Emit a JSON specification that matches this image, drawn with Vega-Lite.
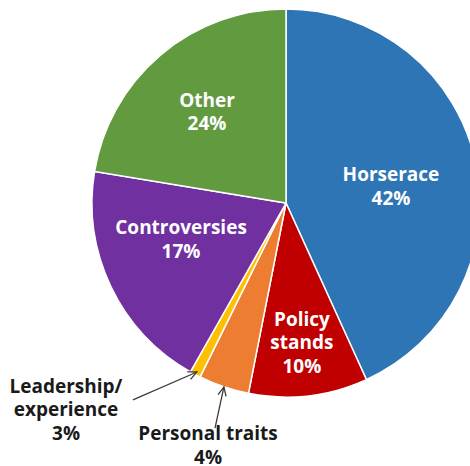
{
  "$schema": "https://vega.github.io/schema/vega-lite/v6.json",
  "autosize": "none",
  "width": 368,
  "height": 388,
  "padding": {"left": 102, "top": 9, "right": 0, "bottom": 69},
  "background": "white",
  "config": {"view": {"stroke": null}, "font": "Open Sans"},
  "datasets": {
    "slices": [
      {"category": "Horserace", "share": 43.2, "rank": 1},
      {"category": "Policy stands", "share": 9.9, "rank": 2},
      {"category": "Personal traits", "share": 4.2, "rank": 3},
      {"category": "Leadership/experience", "share": 0.9, "rank": 4},
      {"category": "Controversies", "share": 19.4, "rank": 5},
      {"category": "Other", "share": 22.4, "rank": 6}
    ],
    "labels": [
      {"text": "Horserace\n42%", "lx": 54.1, "ly": 14.4, "place": "inside"},
      {"text": "Policy\nstands\n10%", "lx": 8.2, "ly": -60.3, "place": "inside"},
      {"text": "Controversies\n17%", "lx": -54.1, "ly": -12.9, "place": "inside"},
      {"text": "Other\n24%", "lx": -40.7, "ly": 52.6, "place": "inside"},
      {"text": "Leadership/\nexperience\n3%", "lx": -113.4, "ly": -94.8, "place": "outside"},
      {"text": "Personal traits\n4%", "lx": -40.2, "ly": -119.1, "place": "outside"}
    ],
    "arrows": [
      {"seg": "a1", "k": 1, "ax": -78.9, "ay": -101.5},
      {"seg": "a1", "k": 2, "ax": -45.9, "ay": -87.1},
      {"seg": "h1", "k": 1, "ax": -49.2, "ay": -90.9},
      {"seg": "h1", "k": 2, "ax": -45.9, "ay": -87.1},
      {"seg": "h1", "k": 3, "ax": -50.9, "ay": -87.0},
      {"seg": "a2", "k": 1, "ax": -36.6, "ay": -116.0},
      {"seg": "a2", "k": 2, "ax": -32.0, "ay": -94.8},
      {"seg": "h2", "k": 1, "ax": -30.9, "ay": -99.7},
      {"seg": "h2", "k": 2, "ax": -32.0, "ay": -94.8},
      {"seg": "h2", "k": 3, "ax": -35.0, "ay": -98.8}
    ]
  },
  "layer": [
    {
      "data": {"name": "slices"},
      "mark": {"type": "arc", "outerRadius": 194, "stroke": "white", "strokeWidth": 1.5},
      "encoding": {
        "theta": {"field": "share", "type": "quantitative", "stack": true},
        "order": {"field": "rank", "type": "quantitative"},
        "color": {
          "field": "category",
          "type": "nominal",
          "legend": null,
          "scale": {
            "domain": ["Horserace", "Policy stands", "Personal traits", "Leadership/experience", "Controversies", "Other"],
            "range": ["#2E75B6", "#C00000", "#ED7D31", "#FFC000", "#7030A0", "#629A40"]
          }
        }
      }
    },
    {
      "data": {"name": "arrows"},
      "mark": {"type": "line", "color": "#3a3a3a", "strokeWidth": 1.3},
      "encoding": {
        "x": {"field": "ax", "type": "quantitative", "axis": null, "scale": {"domain": [-94.845, 94.845], "range": [0, 368], "nice": false, "zero": false}},
        "y": {"field": "ay", "type": "quantitative", "axis": null, "scale": {"domain": [-100, 100], "range": [388, 0], "nice": false, "zero": false}},
        "detail": {"field": "seg", "type": "nominal"},
        "order": {"field": "k", "type": "quantitative"}
      }
    },
    {
      "data": {"name": "labels"},
      "mark": {"type": "text", "fontWeight": "bold", "fontSize": 19, "lineHeight": 23.5, "lineBreak": "\n", "align": "center", "baseline": "middle"},
      "encoding": {
        "x": {"field": "lx", "type": "quantitative"},
        "y": {"field": "ly", "type": "quantitative"},
        "text": {"field": "text", "type": "nominal"},
        "color": {"field": "place", "type": "nominal", "legend": null, "scale": {"domain": ["inside", "outside"], "range": ["#ffffff", "#1a1a1a"]}}
      }
    }
  ],
  "resolve": {"scale": {"color": "independent"}}
}
